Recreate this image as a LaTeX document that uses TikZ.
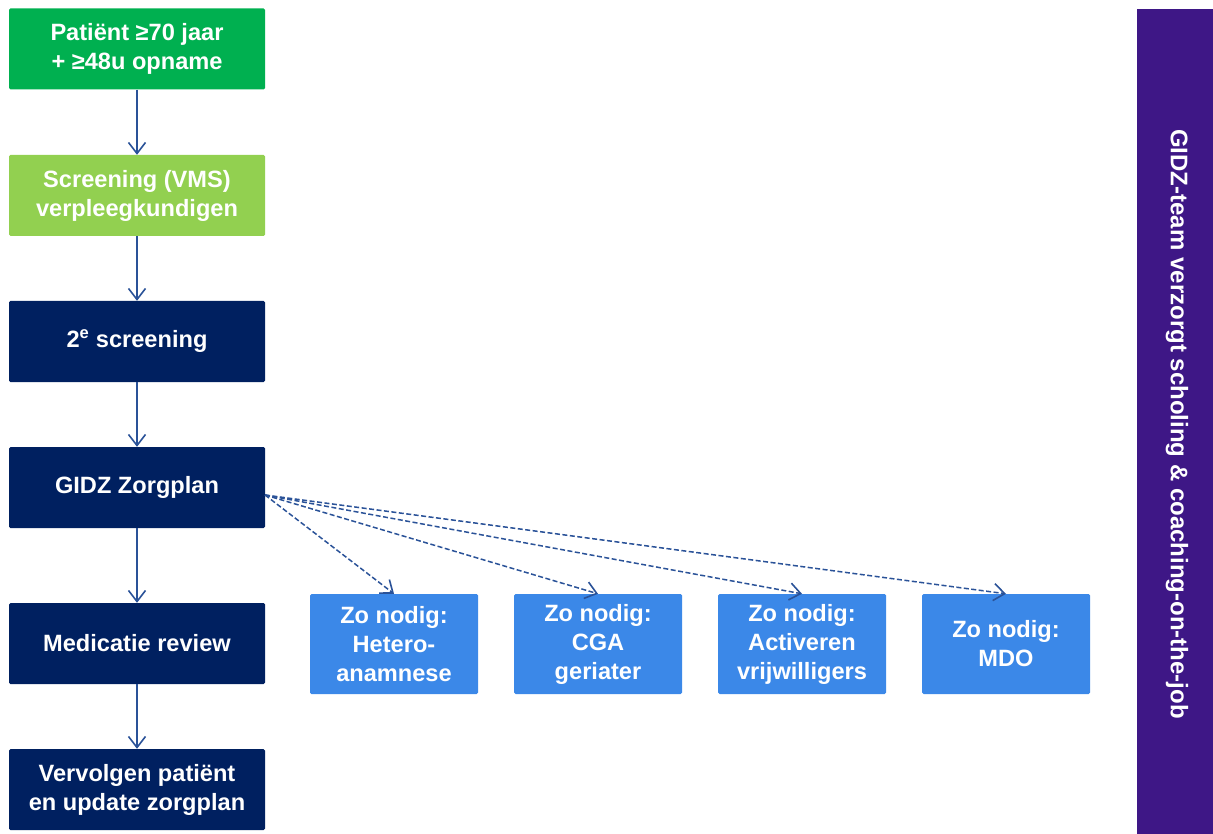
\documentclass[tikz,border=0pt]{standalone}
\usepackage{fontspec}
\setmainfont{Liberation Sans}
\usetikzlibrary{arrows.meta}
\definecolor{groen}{HTML}{00B050}
\definecolor{lichtgroen}{HTML}{92D050}
\definecolor{navy}{HTML}{002060}
\definecolor{blauw}{HTML}{3B88E8}
\definecolor{paars}{HTML}{3E1786}
\definecolor{pijl}{HTML}{2A5298}

\begin{document}
\begin{tikzpicture}[x=1pt, y=-1pt,
	stap/.style = {rectangle, rounded corners=1.5pt, minimum width=256pt, minimum height=81pt, align=center, text=white, font=\fontsize{23.6}{29}\selectfont\bfseries, inner sep=0pt},
	optie/.style = {rectangle, rounded corners=1.5pt, fill=blauw, minimum width=168pt, minimum height=100pt, align=center, text=white, font=\fontsize{23.6}{29}\selectfont\bfseries, inner sep=0pt},
	pijltje/.style = {draw=pijl, line width=1.5pt, -{Straight Barb[length=11pt, width=17pt, line width=1.6pt]}},
	stippel/.style = {pijltje, dash pattern=on 5pt off 2.5pt}]
	\useasboundingbox (0,0) rectangle (1213,834);
	% linker kolom
	\node[stap, fill=groen] (pat) at (137,49) {Patiënt ≥70 jaar\\+ ≥48u opname};
	\node[stap, fill=lichtgroen] (vms) at (137,195.5) {Screening (VMS)\\verpleegkundigen};
	\node[stap, fill=navy] (scr) at (137,341.5) {2\textsuperscript{e} screening};
	\node[stap, fill=navy] (plan) at (137,487.5) {GIDZ Zorgplan};
	\node[stap, fill=navy] (med) at (137,643.5) {Medicatie review};
	\node[stap, fill=navy] (verv) at (137,789.5) {Vervolgen patiënt\\en update zorgplan};
	\draw[pijltje] (pat) -- (vms);
	\draw[pijltje] (vms) -- (scr);
	\draw[pijltje] (scr) -- (plan);
	\draw[pijltje] (plan) -- (med);
	\draw[pijltje] (med) -- (verv);
	% zo nodig
	\node[optie] (hetero) at (394,644) {Zo nodig:\\Hetero-\\anamnese};
	\node[optie] (cga) at (598,644) {Zo nodig:\\CGA\\geriater};
	\node[optie] (vrijw) at (802,644) {Zo nodig:\\Activeren\\vrijwilligers};
	\node[optie] (mdo) at (1006,644) {Zo nodig:\\MDO};
	\coordinate (start) at (265,495);
	\draw[stippel] (start) -- (hetero.north);
	\draw[stippel] (start) -- (cga.north);
	\draw[stippel] (start) -- (vrijw.north);
	\draw[stippel] (start) -- (mdo.north);
	% balk
	\fill[paars] (1137,9) rectangle (1213,834);
	\node[rotate=-90, text=white, font=\fontsize{24}{29}\selectfont\bfseries] (team) at (1177,424) {GIDZ-team verzorgt scholing \& coaching-on-the-job};
\end{tikzpicture}
\end{document}
